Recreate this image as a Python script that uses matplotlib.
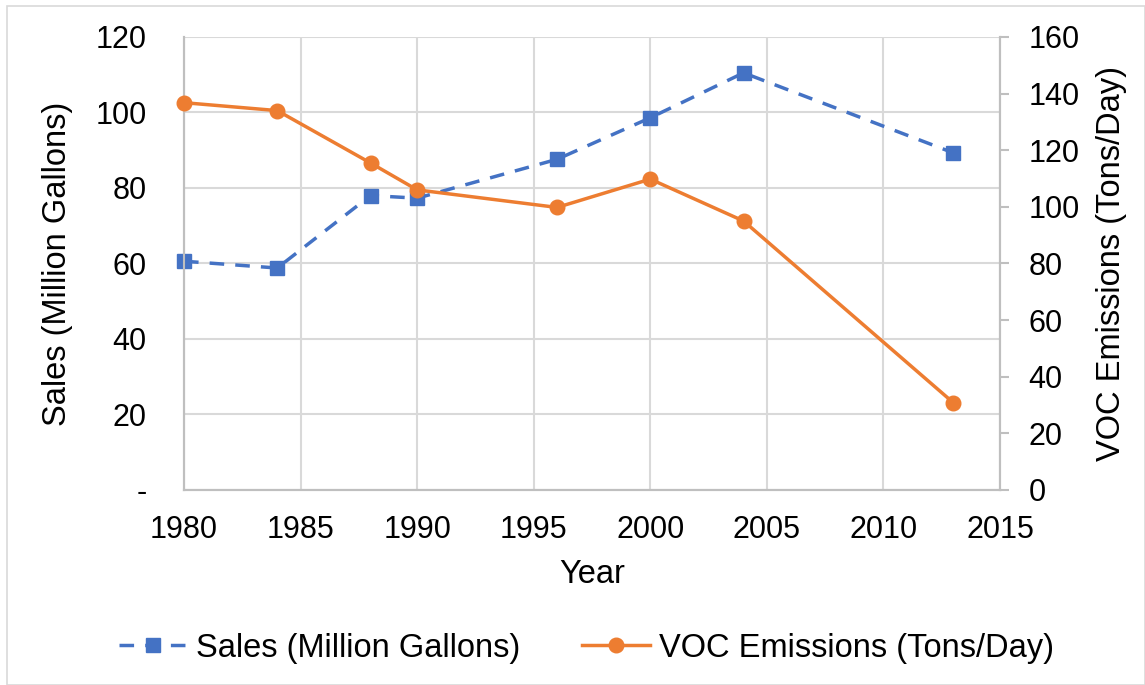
import matplotlib
matplotlib.use("Agg")
import matplotlib.pyplot as plt
from matplotlib.patches import Rectangle

plt.rcParams["font.family"] = ["Liberation Sans", "DejaVu Sans"]

years = [1980, 1984, 1988, 1990, 1996, 2000, 2004, 2013]
sales = [60.6, 58.8, 78.0, 77.3, 87.6, 98.6, 110.5, 89.3]
voc = [136.8, 134.0, 115.5, 106.0, 99.8, 109.8, 95.0, 30.8]

left_ticks = [0, 20, 40, 60, 80, 100, 120]
left_labels = ["-", "20", "40", "60", "80", "100", "120"]
right_ticks = [0, 20, 40, 60, 80, 100, 120, 140, 160]
x_ticks = [1980, 1985, 1990, 1995, 2000, 2005, 2010, 2015]

BLUE = "#4472C4"
ORANGE = "#ED7D31"
GRID = "#D9D9D9"
SPINE = "#BFBFBF"
TICK_FS = 22
TITLE_FS = 23.5

fig = plt.figure(figsize=(11.45, 6.85), dpi=100)
ax = fig.add_axes([0.1607, 0.2847, 0.8734 - 0.1607, 0.946 - 0.2847])
ax2 = ax.twinx()

ax.plot(years, sales, color=BLUE, lw=2.5, ls=(0, (4.2, 3.2)), marker="s",
        ms=9.5, label="Sales (Million Gallons)", zorder=3, clip_on=False)
ax2.plot(years, voc, color=ORANGE, lw=2.5, marker="o", ms=10.5,
         label="VOC Emissions (Tons/Day)", zorder=3, clip_on=False)

ax.set_xlim(1980, 2015)
ax.set_ylim(0, 120)
ax2.set_ylim(0, 160)
ax.set_xticks(x_ticks)
ax.set_yticks(left_ticks)
ax.set_yticklabels(left_labels)
ax2.set_yticks(right_ticks)

ax.grid(True, color=GRID, lw=1.5)
ax.set_axisbelow(True)

for a in (ax, ax2):
    a.spines["top"].set_visible(False)
    for side in ("left", "bottom", "right"):
        a.spines[side].set_color(SPINE)
        a.spines[side].set_linewidth(1.5)

ax.tick_params(axis="x", length=0, labelsize=TICK_FS, pad=18)
ax.tick_params(axis="y", length=0, labelsize=TICK_FS, pad=27)
ax2.tick_params(axis="y", length=6.5, width=1.5, color=SPINE,
                labelsize=TICK_FS, pad=14)

ax.set_xlabel("Year", fontsize=TITLE_FS, labelpad=10)
ax.set_ylabel("Sales (Million Gallons)", fontsize=TITLE_FS, labelpad=16)
ax2.set_ylabel("VOC Emissions (Tons/Day)", fontsize=TITLE_FS, labelpad=12)

h1, l1 = ax.get_legend_handles_labels()
h2, l2 = ax2.get_legend_handles_labels()
fig.legend(h1 + h2, l1 + l2, loc="center", bbox_to_anchor=(0.512, 0.054),
           ncol=2, frameon=False, fontsize=TITLE_FS, handlelength=2.1,
           columnspacing=1.9, handletextpad=0.25)

fig.patches.append(Rectangle((0.006, 0.0), 0.994, 0.991, transform=fig.transFigure,
                             fill=False, edgecolor=GRID, lw=1.2))

fig.savefig("out.png", dpi=100, facecolor="white")
